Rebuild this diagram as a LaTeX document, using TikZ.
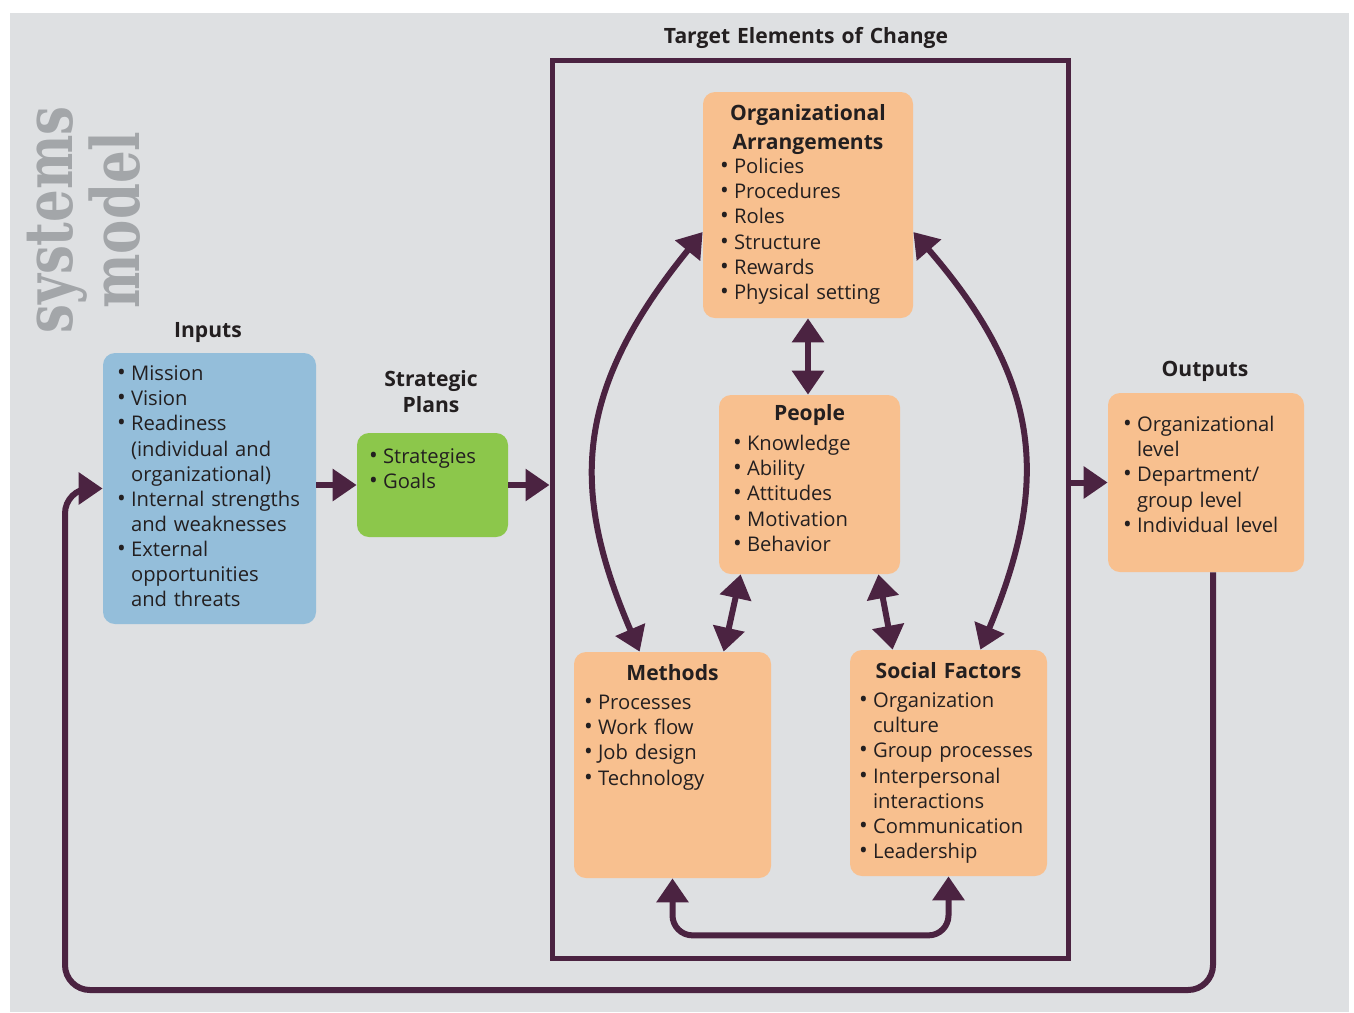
\documentclass[tikz,border=0pt]{standalone}
\usepackage{fontspec}
\setmainfont{Open Sans}
\newfontfamily\markfont{DejaVu Serif}
\usetikzlibrary{arrows.meta,calc,positioning}

\definecolor{paper}{RGB}{222,224,226}
\definecolor{plum}{RGB}{75,35,65}
\definecolor{peach}{RGB}{248,192,143}
\definecolor{sky}{RGB}{148,190,218}
\definecolor{leaf}{RGB}{140,199,75}
\definecolor{ink}{RGB}{35,31,32}
\definecolor{markgray}{RGB}{163,166,169}

% one unit = one pixel of the layout
\def\dpx{0.02cm}
\newcommand\bitem{\makebox[8pt][l]{\scalebox{1.15}{\textbullet}}}
\newcommand\bcont{\hspace*{8pt}}
\newcommand\squeeze[1]{\scalebox{0.77}[1]{#1}}

\begin{document}
\begin{tikzpicture}[x=\dpx,y=-\dpx]
  \tikzset{
    box/.style={rounded corners=0.24cm,inner sep=0pt},
    list/.style={anchor=base west,inner sep=0pt,text width=4.2cm,align=left,font=\fontsize{11.5}{14.3}\selectfont,text=ink},
    title/.style={anchor=base,inner sep=0pt,text width=8cm,align=center,font=\fontsize{12}{16.4}\selectfont\bfseries,text=ink},
    flow/.style={line width=0.12cm,draw=plum,-{Triangle[length=0.48cm,width=0.62cm]}},
    dblflow/.style={flow,{Triangle[length=0.48cm,width=0.62cm]}-{Triangle[length=0.48cm,width=0.62cm]}}
  }

  \useasboundingbox (0,0) rectangle (1354,1012);
  \fill[paper] (10,13) rectangle (1349,1012);

  \node[rotate=90,anchor=base,text width=6cm,align=center,inner sep=0pt,font=\markfont\bfseries\fontsize{38}{37}\selectfont,text=markgray] (watermark) at (72,220) {\squeeze{systems}\\\squeeze{model}};

  % inputs and plans
  \node[box,fill=sky,minimum width=213*\dpx,minimum height=271*\dpx] (inputs) at (209.5,488.5) {};
  \node[title] (inputsLabel) at (208,337) {Inputs};
  \node[list] (inputsText) at ($(inputs.north west)+(14,28)$) {%
    \bitem Mission\\
    \bitem Vision\\
    \bitem Readiness\\
    \bcont(individual and\\
    \bcont organizational)\\
    \bitem Internal strengths\\
    \bcont and weaknesses\\
    \bitem External\\
    \bcont opportunities\\
    \bcont and threats};

  \node[box,fill=leaf,minimum width=151*\dpx,minimum height=104*\dpx] (plans) at (432.5,485) {};
  \node[title,font=\fontsize{12}{15.3}\selectfont\bfseries] (plansLabel) at (431,386) {Strategic\\Plans};
  \node[list] (plansText) at ($(plans.north west)+(12,31)$) {%
    \bitem Strategies\\
    \bitem Goals};

  % target elements of change
  \node[draw=plum,line width=0.1cm,minimum width=516*\dpx,minimum height=898*\dpx,inner sep=0pt] (frame) at (810,509) {};
  \node[title] (frameLabel) at (806,43) {Target Elements of Change};

  \node[box,fill=peach,minimum width=210*\dpx,minimum height=226*\dpx] (org) at (808,205) {};
  \node[title] (orgTitle) at ($(org.north)+(0,29)$) {Organizational\\Arrangements};
  \node[list] (orgText) at ($(org.north west)+(17,82)$) {%
    \bitem Policies\\
    \bitem Procedures\\
    \bitem Roles\\
    \bitem Structure\\
    \bitem Rewards\\
    \bitem Physical setting};

  \node[box,fill=peach,minimum width=181*\dpx,minimum height=179*\dpx] (people) at (809.5,484.5) {};
  \node[title] (peopleTitle) at ($(people.north)+(0,26)$) {People};
  \node[list] (peopleText) at ($(people.north west)+(14,56)$) {%
    \bitem Knowledge\\
    \bitem Ability\\
    \bitem Attitudes\\
    \bitem Motivation\\
    \bitem Behavior};

  \node[box,fill=peach,minimum width=197*\dpx,minimum height=226*\dpx] (methods) at (672.5,765) {};
  \node[title] (methodsTitle) at ($(methods.north)+(0,29)$) {Methods};
  \node[list] (methodsText) at ($(methods.north west)+(10,58)$) {%
    \bitem Processes\\
    \bitem Work flow\\
    \bitem Job design\\
    \bitem Technology};

  \node[box,fill=peach,minimum width=197*\dpx,minimum height=226*\dpx] (social) at (948.5,763) {};
  \node[title] (socialTitle) at ($(social.north)+(0,29)$) {Social Factors};
  \node[list] (socialText) at ($(social.north west)+(9,58)$) {%
    \bitem Organization\\
    \bcont culture\\
    \bitem Group processes\\
    \bitem Interpersonal\\
    \bcont interactions\\
    \bitem Communication\\
    \bitem Leadership};

  % outputs
  \node[box,fill=peach,minimum width=196*\dpx,minimum height=179*\dpx] (outputs) at (1206,482.5) {};
  \node[title] (outputsLabel) at (1205,376) {Outputs};
  \node[list] (outputsText) at ($(outputs.north west)+(15,39)$) {%
    \bitem Organizational\\
    \bcont level\\
    \bitem Department/\\
    \bcont group level\\
    \bitem Individual level};

  % main flow
  \draw[flow] (inputs.east |- plans.west) -- (plans.west);
  \draw[flow] (plans.east) -- (plans.east -| frame.west);
  \draw[flow] (frame.east |- outputs.west) -- (outputs.west);

  % feedback
  \coordinate (loopCorner) at (65,990);
  \draw[flow,rounded corners=0.5cm] ([xshift=7*\dpx]outputs.south) |- (loopCorner) |- (inputs.west);

  % links between the elements
  \draw[dblflow] (org.south) -- (org.south |- people.north);
  \draw[dblflow] ([yshift=-27*\dpx]org.west) .. controls +(-130,160) and +(-69,-161) .. ([xshift=66*\dpx]methods.north west);
  \draw[dblflow] ([yshift=-27*\dpx]org.east) .. controls +(130,150) and +(69,-166) .. ([xshift=-67*\dpx]social.north east);
  \draw[dblflow] ($(people.south west)+(22,0)$) -- ($(methods.north west)+(150,0)$);
  \draw[dblflow] ($(people.south east)+(-22,0)$) -- ($(social.north west)+(43,0)$);
  \draw[dblflow,rounded corners=0.4cm] (methods.south) -- ++(0,57) -| (social.south);
\end{tikzpicture}
\end{document}
